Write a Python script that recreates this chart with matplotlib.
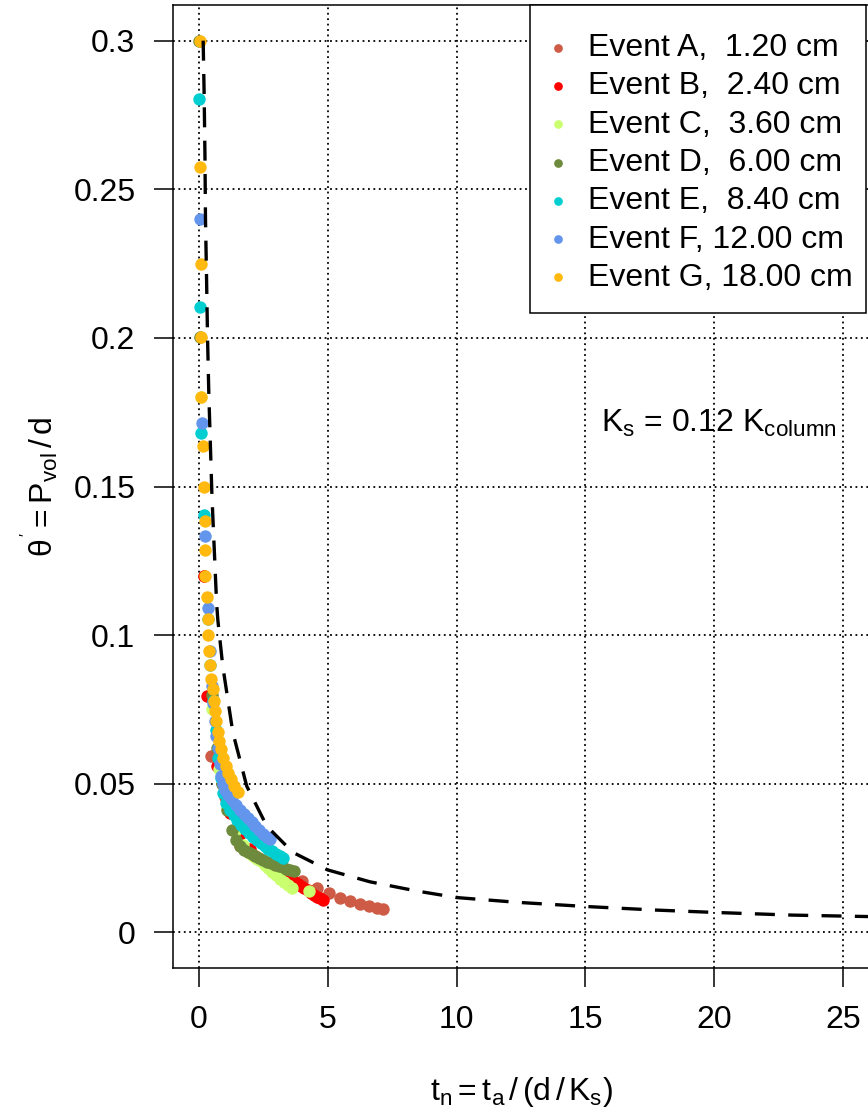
import matplotlib
matplotlib.use("Agg")
import matplotlib.pyplot as plt
from matplotlib.patches import Rectangle

plt.rcParams['font.family'] = ['Liberation Sans', 'DejaVu Sans']
plt.rcParams['mathtext.fontset'] = 'custom'
plt.rcParams['mathtext.rm'] = 'Liberation Sans'
plt.rcParams['mathtext.it'] = 'Liberation Sans'
plt.rcParams['mathtext.sf'] = 'Liberation Sans'

# event labels and colours
labels = ["Event A,  1.20 cm", "Event B,  2.40 cm", "Event C,  3.60 cm",
          "Event D,  6.00 cm", "Event E,  8.40 cm", "Event F, 12.00 cm",
          "Event G, 18.00 cm"]
colors = ["#CD5B45", "#FF0000", "#CAFF70", "#6E8B3D", "#00CED1", "#6495ED", "#FFB90F"]

# observed points (t_n, theta')
A_t = [0.20, 0.49, 1.00, 1.60, 2.20, 2.80, 3.40, 3.99, 4.57, 5.06, 5.47, 5.86, 6.25, 6.61, 6.90, 7.16]
A_y = [0.1198, 0.0594, 0.0455, 0.0290, 0.0256, 0.0218, 0.0190, 0.0173, 0.0150, 0.0134, 0.0117, 0.0105,
       0.0094, 0.0089, 0.0083, 0.0077]

B_t = [0.21, 0.33, 0.70, 1.20, 1.60, 2.00, 2.40, 2.80, 3.10, 3.35, 3.50, 3.62, 3.74, 3.86, 3.98, 4.10,
       4.22, 4.34, 4.46, 4.58, 4.70, 4.83]
B_y = [0.1198, 0.0796, 0.0560, 0.0403, 0.0330, 0.0280, 0.0245, 0.0220, 0.0203, 0.0192, 0.0183, 0.0176,
       0.0169, 0.0162, 0.0155, 0.0148, 0.0141, 0.0134, 0.0127, 0.0120, 0.0114, 0.0108]

C_t = [0.07, 0.50, 0.80, 1.10, 1.40, 1.70, 1.95, 2.10, 2.25, 2.40, 2.55, 2.70, 2.85, 3.00, 3.15, 3.30,
       3.45, 3.60, 4.28]
C_y = [0.1800, 0.0750, 0.0550, 0.0420, 0.0340, 0.0295, 0.0268, 0.0256, 0.0248, 0.0240, 0.0228, 0.0216,
       0.0204, 0.0192, 0.0180, 0.0170, 0.0160, 0.0150, 0.0139]

D_t = [0.02, 0.06, 0.50, 0.70, 0.90, 1.10, 1.30, 1.45, 1.60, 1.75, 1.90, 2.05, 2.20, 2.35, 2.50, 2.65,
       2.80, 2.95, 3.10, 3.25, 3.40, 3.55, 3.70]
D_y = [0.3000, 0.2003, 0.0800, 0.0620, 0.0500, 0.0410, 0.0345, 0.0310, 0.0290, 0.0278, 0.0270, 0.0263,
       0.0256, 0.0250, 0.0244, 0.0238, 0.0233, 0.0228, 0.0224, 0.0219, 0.0214, 0.0210, 0.0206]

E_t = [0.02, 0.04, 0.10, 0.19, 0.34, 0.45, 0.55, 0.65, 0.75, 0.85, 0.94, 1.05, 1.20, 1.35, 1.50, 1.65,
       1.80, 1.95, 2.10, 2.25, 2.40, 2.55, 2.70, 2.85, 3.00, 3.15, 3.27]
E_y = [0.2805, 0.2104, 0.1680, 0.1404, 0.1054, 0.0900, 0.0780, 0.0680, 0.0585, 0.0520, 0.0470, 0.0436,
       0.0412, 0.0395, 0.0378, 0.0362, 0.0347, 0.0334, 0.0322, 0.0311, 0.0300, 0.0290, 0.0281, 0.0272,
       0.0264, 0.0257, 0.0251]

F_t = [0.04, 0.13, 0.23, 0.34, 0.42, 0.50, 0.56, 0.62, 0.68, 0.75, 0.82, 0.88, 0.94, 1.02, 1.15, 1.30,
       1.45, 1.60, 1.75, 1.90, 2.05, 2.20, 2.35, 2.50, 2.63, 2.76]
F_y = [0.2400, 0.1714, 0.1333, 0.1091, 0.0946, 0.0830, 0.0770, 0.0710, 0.0660, 0.0620, 0.0565, 0.0527,
       0.0500, 0.0480, 0.0462, 0.0445, 0.0429, 0.0413, 0.0398, 0.0384, 0.0370, 0.0357, 0.0344, 0.0332,
       0.0322, 0.0313]

G_t = [0.05, 0.04, 0.10, 0.10, 0.10, 0.17, 0.19, 0.23, 0.26, 0.25, 0.32, 0.34, 0.36, 0.40, 0.44, 0.48,
       0.55, 0.59, 0.64, 0.68, 0.75, 0.80, 0.88, 0.95, 1.06, 1.15, 1.26, 1.38, 1.53]
G_y = [0.3000, 0.2576, 0.2250, 0.2003, 0.1800, 0.1636, 0.1500, 0.1384, 0.1286, 0.1198, 0.1128, 0.1054,
       0.1000, 0.0946, 0.0899, 0.0852, 0.0818, 0.0779, 0.0745, 0.0711, 0.0673, 0.0645, 0.0616, 0.0588,
       0.0560, 0.0537, 0.0515, 0.0493, 0.0471]

# model curve (dashed)
curve_t = [0.17, 0.21, 0.24, 0.26, 0.30, 0.34, 0.39, 0.45, 0.51, 0.60, 0.69, 0.74, 0.93, 1.32, 1.86,
           2.64, 3.65, 5.00, 6.64, 8.46, 10.0, 12.35, 15.0, 17.7, 20.0, 23.0, 26.0]
curve_y = [0.300, 0.281, 0.261, 0.240, 0.221, 0.200, 0.181, 0.164, 0.147, 0.129, 0.111, 0.105, 0.0896,
           0.0673, 0.0492, 0.0357, 0.0269, 0.0210, 0.0170, 0.0139, 0.0117, 0.0101, 0.0087, 0.0075,
           0.0067, 0.0058, 0.0053]

xticks = [0, 5, 10, 15, 20, 25]
yticks = [0, 0.05, 0.1, 0.15, 0.2, 0.25, 0.3]
ytick_labels = ["0", "0.05", "0.1", "0.15", "0.2", "0.25", "0.3"]

series = [(A_t, A_y), (B_t, B_y), (C_t, C_y), (D_t, D_y), (E_t, E_y), (F_t, F_y), (G_t, G_y)]

fig = plt.figure(figsize=(8.68, 11.2), dpi=100)
ax = fig.add_axes([173/868, 152/1120, 696/868, 963/1120])

ax.set_xlim(-1, 26)
ax.set_ylim(-0.012, 0.312)
ax.set_axisbelow(True)
ax.grid(True, color='black', linestyle=(0, (1, 2)), linewidth=1.3)

for (tt, yy), c, lab in zip(series, colors, labels):
    ax.scatter(tt, yy, s=80, color=c, linewidths=0, label=lab, zorder=3)

ax.plot(curve_t, curve_y, color='black', linewidth=2.4, linestyle=(0, (6, 4)), zorder=4)

ax.set_xticks(xticks)
ax.set_yticks(yticks)
ax.set_yticklabels(ytick_labels)
ax.tick_params(direction='out', length=14, width=1.1, labelsize=23, pad=13)
for sp in ax.spines.values():
    sp.set_linewidth(1.1)

ax.text(20.17, 0.1684, r"$\mathrm{K_s}$ = 0.12 $\mathrm{K_{column}}$", ha='center', va='baseline',
        fontsize=23)

# legend box like R's legend("topright")
box = Rectangle((530/868, 1 - 313/1120), 336/868, 308/1120, transform=fig.transFigure,
                facecolor='white', edgecolor='black', linewidth=1.1, zorder=5)
ax.add_patch(box)
box.set_clip_on(False)

leg = ax.legend(loc='upper left', bbox_to_anchor=(550/868, 1 - 33/1120), bbox_transform=fig.transFigure,
                borderaxespad=0, borderpad=0, frameon=False, fontsize=23,
                handlelength=0.5, handletextpad=0.69, labelspacing=0.26,
                markerscale=0.7, scatterpoints=1)
leg.set_zorder(6)

fig.text(40/868, 1 - 487/1120, r"$\theta^{'} = \mathrm{P_{vol}\,/\,d}$", rotation=90,
         ha='center', va='center', fontsize=23)
fig.text(521/868, 1 - 1092/1120, r"$\mathrm{t_n = t_a\,/\,(d\,/\,K_s)}$", ha='center', va='center',
         fontsize=23)

fig.savefig("out.png", dpi=100)
